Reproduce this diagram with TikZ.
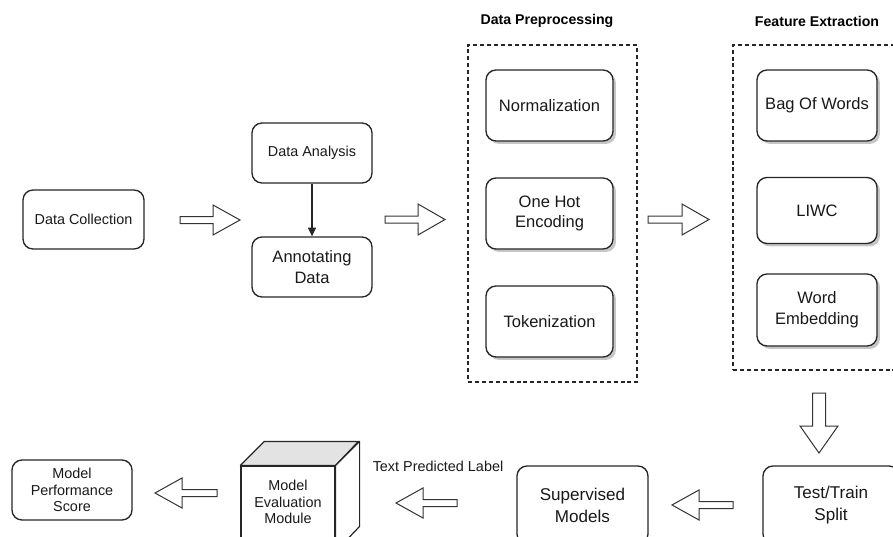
\documentclass[tikz,border=0pt]{standalone}
\usepackage{fontspec}
\setmainfont{Liberation Sans}
\usetikzlibrary{shadows,arrows.meta}
\newcommand\fsmall{\fontsize{10.8}{12.6}\selectfont}
\newcommand\flarge{\fontsize{12.4}{15.5}\selectfont}
\newcommand\fbottom{\fontsize{12.8}{16.5}\selectfont}
\newcommand\ftitle{\fontsize{10.6}{12}\selectfont\bfseries}
\begin{document}
\begin{tikzpicture}[x=0.75pt,y=-0.75pt,
  box/.style={draw=black!85, line width=1pt, rounded corners=7.5pt, fill=white, align=center, inner sep=0pt, text=black!90},
  shbox/.style={box, drop shadow={shadow xshift=2.2pt, shadow yshift=-2.2pt, fill=black!50, opacity=0.45}},
  group/.style={draw=black!85, line width=0.8pt, dash pattern=on 3pt off 2.2pt, inner sep=0pt},
  arrowline/.style={draw=black!80, line width=0.75pt, fill=white, line join=miter},
  pics/barrow/.style n args={3}{code={
    \draw[arrowline] (-#1/2,-#2) -- (#1/2-27,-#2) -- (#1/2-27,-#3) -- (#1/2,0)
      -- (#1/2-27,#3) -- (#1/2-27,#2) -- (-#1/2,#2) -- cycle;}}
]
\useasboundingbox (0,0) rectangle (893,536);
\clip (0,0) rectangle (893,536);

% top-left chain
\node[box, font=\fsmall, minimum width=90.75pt, minimum height=44.25pt] (dc) at (83.5,219.5) {Data Collection};
\node[box, font=\fsmall, minimum width=90pt, minimum height=45pt] (da) at (312,153) {Data Analysis};
\node[box, font=\flarge, minimum width=90pt, minimum height=45pt] (ad) at (312,267) {Annotating\\Data};
\draw[line width=0.9pt, black!85, -{Triangle[length=6.5pt,width=6pt]}] (da) -- (ad);

% Data preprocessing group
\node[font=\ftitle] (dptitle) at (547,21) {Data Preprocessing};
\node[group, minimum width=126.75pt, minimum height=252.75pt] (dpgroup) at (552.5,213.5) {};
\node[shbox, font=\flarge, minimum width=95.25pt, minimum height=53.25pt] (norm) at (549.5,105.5) {Normalization};
\node[shbox, font=\flarge, minimum width=95.25pt, minimum height=53.25pt] (onehot) at (549.5,213.5) {One Hot\\Encoding};
\node[shbox, font=\flarge, minimum width=95.25pt, minimum height=53.25pt] (token) at (549.5,321.5) {Tokenization};

% Feature extraction group
\node[font=\ftitle] (fetitle) at (817,21) {Feature Extraction};
\node[group, minimum width=126pt, minimum height=243.75pt] (fegroup) at (817,207.5) {};
\node[shbox, font=\flarge, minimum width=90pt, minimum height=53.25pt] (bow) at (817,105.5) {Bag Of Words};
\node[shbox, font=\flarge, minimum width=90pt, minimum height=49.5pt] (liwc) at (817,210.5) {LIWC};
\node[shbox, font=\flarge, minimum width=90pt, minimum height=54pt] (we) at (817,310) {Word\\Embedding};

% bottom row
\node[box, font=\fbottom, minimum width=102pt, minimum height=58.5pt] (tts) at (831,505) {Test/Train\\Split};
\node[box, font=\fbottom, minimum width=98.25pt, minimum height=58.5pt] (sup) at (582.5,505) {Supervised\\Models};
\node[draw=black!85, line width=0.9pt, fill=white, minimum width=70.5pt, minimum height=63.75pt, inner sep=0pt] (eval) at (288,508.5) {};
\draw[line width=0.9pt, draw=black!85, fill=black!11, line join=round] (eval.north west) -- ++(24,-24) -- ++(70.5pt,0) -- (eval.north east) -- cycle;
\draw[line width=0.9pt, draw=black!85, fill=white, line join=round] (eval.north east) -- ++(24,-24) -- ++(0,85) -- (eval.south east) -- cycle;
\node[font=\fsmall, align=center, text=black!90] (evaltext) at (288,502) {Model\\Evaluation\\Module};
\node[font=\fsmall, text=black!90] (tpl) at (438,466) {Text Predicted Label};
\node[box, font=\fsmall, minimum width=90pt, minimum height=45pt] (mps) at (72,490) {Model\\Performance\\Score};

% block arrows
\pic (a1) at (210,220) {barrow={60}{3.5}{15}};
\pic (a2) at (415,219.5) {barrow={60}{3.5}{15.5}};
\pic (a3) at (678.5,219.5) {barrow={61}{3.5}{15.5}};
\pic[rotate=-90] (a4) at (819,423) {barrow={60}{6.5}{19}};
\pic[rotate=180] (a5) at (702.5,505) {barrow={61}{3.5}{15}};
\pic[rotate=180] (a6) at (426.5,503) {barrow={61}{3.5}{15}};
\pic[rotate=180] (a7) at (186,493) {barrow={62}{3.5}{15}};
\end{tikzpicture}
\end{document}
